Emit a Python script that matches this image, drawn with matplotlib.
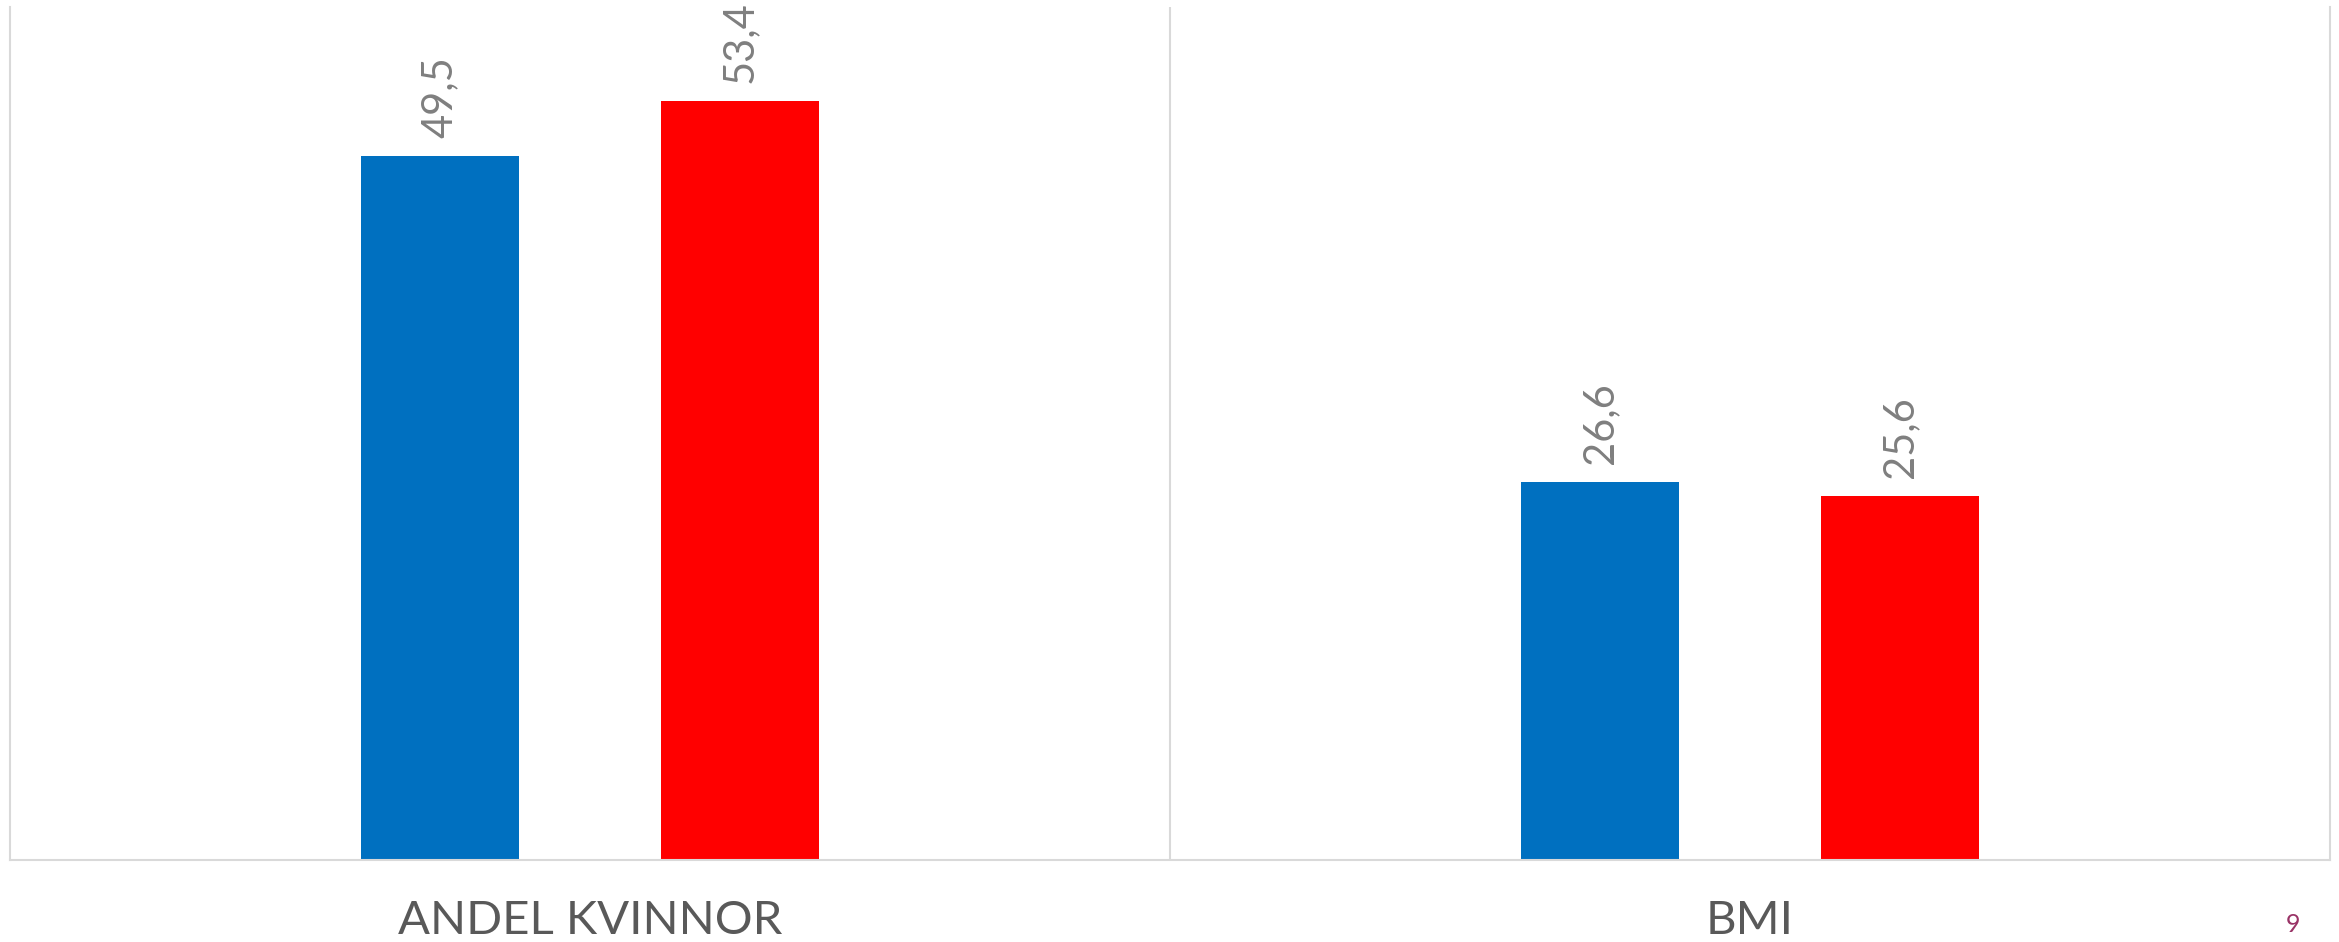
import matplotlib
matplotlib.use("Agg")
import matplotlib.pyplot as plt
import numpy as np

# data
kategorier = ["ANDEL KVINNOR", "BMI"]
serie_bla = [49.5, 26.6]
serie_rod = [53.4, 25.6]
sidnummer = "9"

plt.rcParams['font.family'] = ['Lato', 'DejaVu Sans']

fig = plt.figure(figsize=(23.39, 9.42), dpi=100)
ax = fig.add_axes([10 / 2339, 82 / 942, 2320 / 2339, 853 / 942])

x = np.arange(len(kategorier))
bredd = 0.136
avstand = 0.1295

staplar_bla = ax.bar(x - avstand, serie_bla, bredd, color="#0070C0")
staplar_rod = ax.bar(x + avstand, serie_rod, bredd, color="#FF0000")

# värdeetiketter, roterade
for staplar, varden in [(staplar_bla, serie_bla), (staplar_rod, serie_rod)]:
    for s, v in zip(staplar, varden):
        ax.annotate(f"{v:.1f}".replace(".", ","),
                    (s.get_x() + s.get_width() / 2, v),
                    xytext=(0, 13), textcoords="offset points",
                    rotation=90, ha="center", va="bottom",
                    fontsize=30, color="#7F7F7F")

ax.set_xlim(-0.5, 1.5)
ax.set_ylim(0, 60)
ax.set_yticks([])
ax.set_xticks(x)
ax.set_xticklabels(kategorier, fontsize=34, color="#595959")
ax.tick_params(axis="x", length=0, pad=29)

for sida in ["left", "right", "bottom"]:
    ax.spines[sida].set_color("#D9D9D9")
    ax.spines[sida].set_linewidth(1.5)
ax.spines["top"].set_visible(False)
ax.axvline(0.5, color="#D9D9D9", linewidth=1.5)

fig.text(2293 / 2339, 1 - 925 / 942, sidnummer, ha="center", va="center",
         fontsize=18, color="#993366")

fig.savefig("out.png", dpi=100)
